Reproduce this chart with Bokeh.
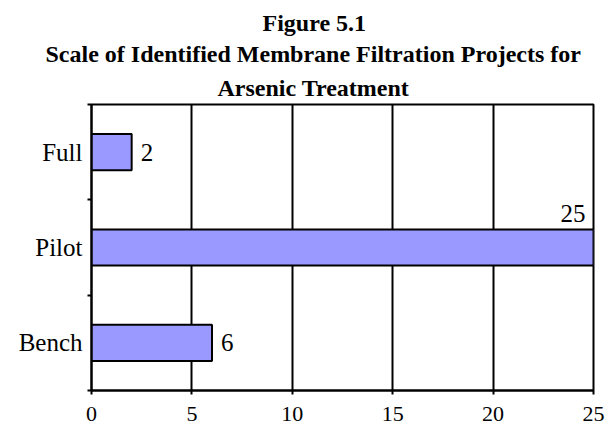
from bokeh.plotting import figure
from bokeh.models import Range1d, FixedTicker, LabelSet, ColumnDataSource, Title
from bokeh.embed import file_html
from bokeh.resources import INLINE

# ---- data ----
title_lines = ["Figure 5.1",
               "Scale of Identified Membrane Filtration Projects for",
               "Arsenic Treatment"]
categories = ["Bench", "Pilot", "Full"]      # bottom to top
counts = [6, 25, 2]
x_ticks = [0, 5, 10, 15, 20, 25]

FONT = "Liberation Serif"
BAR_FILL = "#9999FF"

x_max = max(x_ticks)
pos = [i + 0.5 for i in range(len(categories))]

p = figure(width=607, height=426,
           x_range=Range1d(0, x_max), y_range=Range1d(0, len(categories)),
           output_backend="svg", toolbar_location=None,
           min_border_left=91, min_border_right=14,
           min_border_top=104, min_border_bottom=36)
p.title = None
p.background_fill_color = "white"
p.border_fill_color = "white"
p.outline_line_color = "black"
p.outline_line_width = 2

src = ColumnDataSource(dict(y=pos, x=counts))
p.hbar(y="y", left=0, right="x", height=0.38, source=src,
       fill_color=BAR_FILL, line_color="black", line_width=2)

# value labels: outside end, or above the bar when it reaches the axis end
out_idx = [i for i, c in enumerate(counts) if c < x_max]
in_idx = [i for i, c in enumerate(counts) if c >= x_max]
src_out = ColumnDataSource(dict(x=[counts[i] for i in out_idx], y=[pos[i] for i in out_idx],
                                t=[str(counts[i]) for i in out_idx]))
src_in = ColumnDataSource(dict(x=[counts[i] for i in in_idx], y=[pos[i] for i in in_idx],
                               t=[str(counts[i]) for i in in_idx]))
p.add_layout(LabelSet(x="x", y="y", text="t", source=src_out, x_offset=9,
                      text_align="left", text_baseline="middle",
                      text_font=FONT, text_font_size="25px", text_color="black"))
p.add_layout(LabelSet(x="x", y="y", text="t", source=src_in, x_offset=-8, y_offset=26,
                      text_align="right", text_baseline="alphabetic",
                      text_font=FONT, text_font_size="25px", text_color="black"))

# x axis
p.xaxis.ticker = FixedTicker(ticks=x_ticks, minor_ticks=[])
p.xaxis.axis_line_color = "black"
p.xaxis.axis_line_width = 2
p.xaxis.major_tick_line_color = "black"
p.xaxis.major_tick_line_width = 2
p.xaxis.major_tick_out = 4
p.xaxis.major_tick_in = 0
p.xaxis.minor_tick_line_color = None
p.xaxis.major_label_standoff = 12
p.xaxis.major_label_text_font = FONT
p.xaxis.major_label_text_font_size = "22px"
p.xaxis.major_label_text_color = "black"

# y axis (categories, ticks between categories)
p.yaxis.ticker = FixedTicker(ticks=pos, minor_ticks=list(range(len(categories) + 1)))
p.yaxis.major_label_overrides = {pv: c for pv, c in zip(pos, categories)}
p.yaxis.axis_line_color = "black"
p.yaxis.axis_line_width = 2
p.yaxis.major_tick_line_color = None
p.yaxis.major_tick_out = 0
p.yaxis.major_tick_in = 0
p.yaxis.minor_tick_line_color = "black"
p.yaxis.minor_tick_line_width = 2
p.yaxis.minor_tick_out = 4
p.yaxis.minor_tick_in = 0
p.yaxis.major_label_standoff = 5
p.yaxis.major_label_text_font = FONT
p.yaxis.major_label_text_font_size = "25px"
p.yaxis.major_label_text_color = "black"

# grid
p.xgrid.ticker = FixedTicker(ticks=x_ticks, minor_ticks=[])
p.xgrid.grid_line_color = "black"
p.xgrid.grid_line_width = 2
p.ygrid.grid_line_color = None

# title lines (stacked above the frame; nearest first)
title_offsets = [171, -46, 126]   # left edge of each line relative to frame left
title_standoffs = [3, 3, 8]
for line, off, so in reversed(list(zip(title_lines, title_offsets, title_standoffs))):
    p.add_layout(Title(text=line, align="left", offset=off, standoff=so,
                       text_font=FONT, text_font_style="bold", text_font_size="24px",
                       text_color="black"), "above")

open("out.html", "w").write(file_html(p, INLINE))
